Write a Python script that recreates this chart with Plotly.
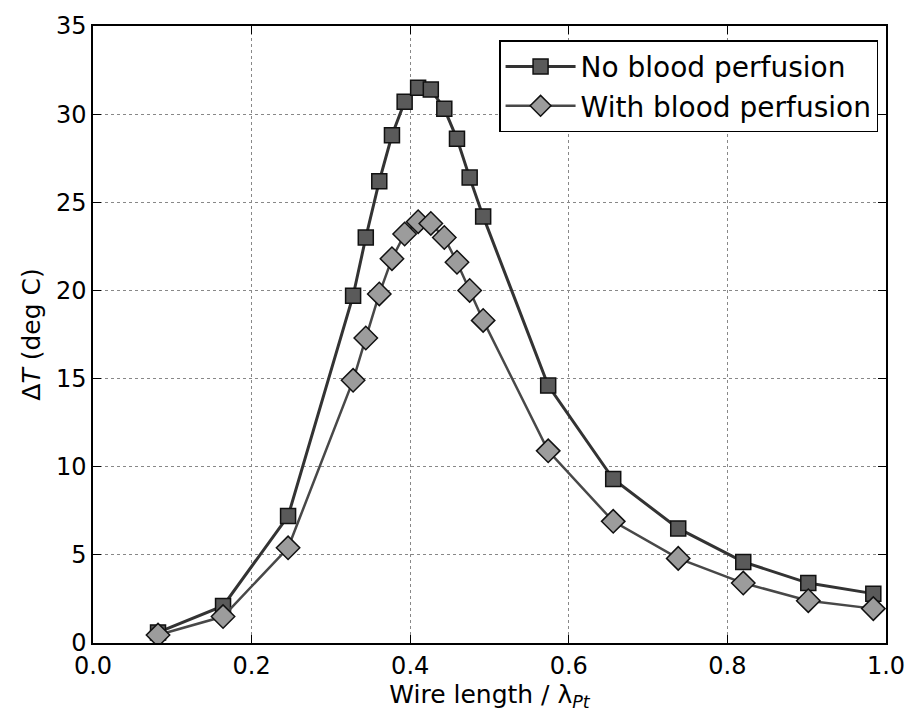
import plotly.graph_objects as go

x_vals = [0.082, 0.164, 0.246, 0.328, 0.344, 0.361, 0.377, 0.393, 0.410, 0.426,
          0.443, 0.459, 0.475, 0.492, 0.574, 0.656, 0.738, 0.820, 0.902, 0.984]
no_perfusion = [0.6, 2.1, 7.2, 19.7, 23.0, 26.2, 28.8, 30.7, 31.5, 31.4,
                30.3, 28.6, 26.4, 24.2, 14.6, 9.3, 6.5, 4.6, 3.4, 2.8]
with_perfusion = [0.45, 1.5, 5.4, 14.9, 17.3, 19.8, 21.8, 23.2, 23.9, 23.8,
                  23.0, 21.6, 20.0, 18.3, 10.9, 6.9, 4.8, 3.4, 2.4, 1.95]
series_names = ["No blood perfusion", "With blood perfusion"]
x_ticks = [0.0, 0.2, 0.4, 0.6, 0.8, 1.0]
y_ticks = [0, 5, 10, 15, 20, 25, 30, 35]

font = "DejaVu Sans, Liberation Sans, sans-serif"

fig = go.Figure()
fig.add_trace(go.Scatter(
    x=x_vals, y=no_perfusion, name=series_names[0], mode="lines+markers",
    line=dict(color="#333333", width=3),
    marker=dict(symbol="square", size=15, color="#5a5a5a",
                line=dict(color="#111111", width=1.5)),
))
fig.add_trace(go.Scatter(
    x=x_vals, y=with_perfusion, name=series_names[1], mode="lines+markers",
    line=dict(color="#484848", width=2.5),
    marker=dict(symbol="diamond", size=18, color="#9c9c9c",
                line=dict(color="#111111", width=1.5)),
))

axis_common = dict(
    showline=True, linecolor="black", linewidth=1.5, mirror="ticks",
    ticks="inside", ticklen=8, tickwidth=1, tickcolor="black",
    showgrid=True, gridcolor="#888888", griddash="dot", gridwidth=1,
    zeroline=False, automargin=False,
    tickfont=dict(family=font, size=24, color="black"),
)

fig.update_layout(
    width=906, height=717,
    paper_bgcolor="white", plot_bgcolor="white",
    margin=dict(l=85, r=28, t=18, b=82),
    font=dict(family=font, color="black"),
    xaxis=dict(range=[0, 1.0], tickvals=x_ticks, tickformat=".1f",
               title=dict(text="Wire length / λ<sub><i>Pt</i></sub>",
                          font=dict(family=font, size=25), standoff=2),
               **axis_common),
    yaxis=dict(range=[0, 35], tickvals=y_ticks,
               title=dict(text="Δ<i>T</i> (deg C)",
                          font=dict(family=font, size=25), standoff=8),
               **axis_common),
    legend=dict(x=0.99, xanchor="right", y=0.977, yanchor="top",
                bgcolor="white", bordercolor="black", borderwidth=1.5,
                font=dict(family=font, size=28, color="black"),
                itemwidth=70, tracegroupgap=2),
    showlegend=True,
)

fig.write_html("out.html")
